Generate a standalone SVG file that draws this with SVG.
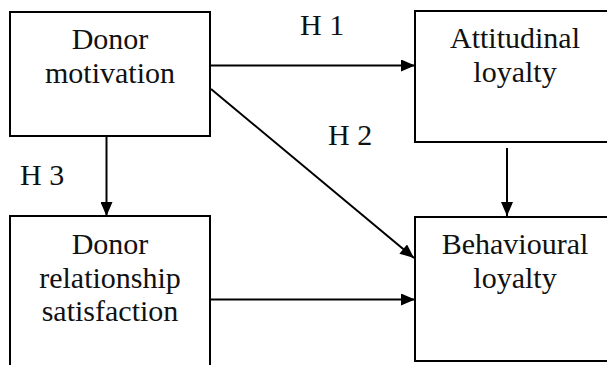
<svg xmlns="http://www.w3.org/2000/svg" width="607" height="365" viewBox="0 0 607 365">
<style>
.box{fill:#fff;stroke:#000;stroke-width:2}
.lbl{font-size:30px;fill:#111;text-anchor:middle}
.h{font-size:30px;fill:#111}
.conn{stroke:#000;stroke-width:2;fill:none;marker-end:url(#ah)}
</style>
<defs>
<marker id="ah" markerUnits="userSpaceOnUse" markerWidth="15" markerHeight="12" refX="14" refY="6" orient="auto">
<path d="M0,0 L14,6 L0,12 z" fill="#000"/>
</marker>
</defs>
<rect width="607" height="365" fill="#fff"/>
<g font-family="Liberation Serif, DejaVu Serif, Times New Roman, serif">
<g id="donor-motivation">
<rect class="box" x="10" y="12" width="200" height="124"/>
<text class="lbl" x="110" y="49">Donor</text>
<text class="lbl" x="110" y="82.5">motivation</text>
</g>
<g id="attitudinal-loyalty">
<rect class="box" x="415" y="11" width="210" height="131"/>
<text class="lbl" x="515" y="48">Attitudinal</text>
<text class="lbl" x="515" y="81.5">loyalty</text>
</g>
<g id="donor-relationship-satisfaction">
<rect class="box" x="10" y="216" width="200" height="170"/>
<text class="lbl" x="110" y="254">Donor</text>
<text class="lbl" x="110" y="288">relationship</text>
<text class="lbl" x="110" y="321">satisfaction</text>
</g>
<g id="behavioural-loyalty">
<rect class="box" x="415" y="217" width="210" height="144"/>
<text class="lbl" x="515" y="254">Behavioural</text>
<text class="lbl" x="515" y="288">loyalty</text>
</g>
<g id="connectors">
<line class="conn" x1="211" y1="65.5" x2="415" y2="65.5"/>
<line class="conn" x1="211" y1="89" x2="414" y2="258"/>
<line class="conn" x1="106.5" y1="137" x2="106.5" y2="216"/>
<line class="conn" x1="507" y1="148" x2="507" y2="216"/>
<line class="conn" x1="211" y1="299.5" x2="415" y2="299.5"/>
<text class="h" x="300" y="35">H 1</text>
<text class="h" x="328" y="145">H 2</text>
<text class="h" x="20" y="185">H 3</text>
</g>
</g>
</svg>
